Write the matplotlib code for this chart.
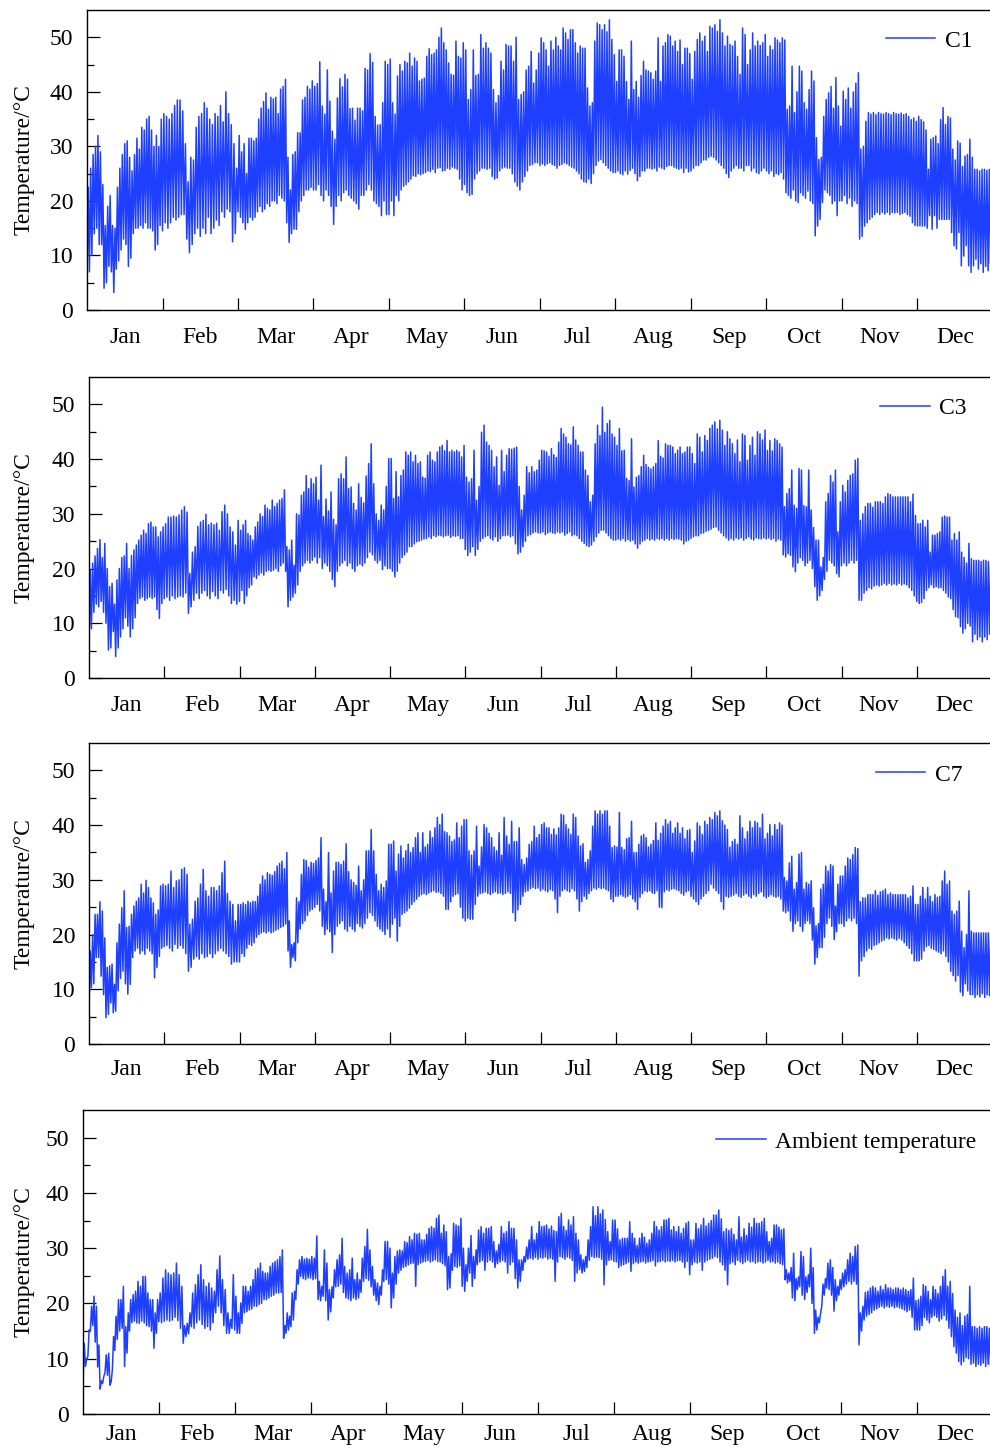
import numpy as np
import matplotlib
matplotlib.use("Agg")
import matplotlib.pyplot as plt
from matplotlib.ticker import NullFormatter

plt.rcParams["font.family"] = ["Liberation Serif", "DejaVu Serif"]
plt.rcParams["font.size"] = 17

months = ["Jan", "Feb", "Mar", "Apr", "May", "Jun",
          "Jul", "Aug", "Sep", "Oct", "Nov", "Dec"]

# daily maximum / minimum, one inner list per month
c1_max = [
    [22.5, 26, 28.5, 30, 32, 29, 23, 15.5, 19, 21, 15.5, 15, 22.5, 26, 28.5, 30.5, 31, 28, 25.5, 28.5, 31.5, 29.5, 33.5, 33, 35, 35.5, 33, 30, 32, 30, 35],
    [36, 35.5, 35, 36, 37.5, 38.5, 38.5, 36.5, 30.5, 23.5, 28, 27.5, 33.5, 35.5, 36, 38, 37, 35, 34, 36, 35.5, 37.5, 34.5, 40, 36, 34, 30.5, 26],
    [32, 29, 30.5, 25, 31.5, 31.5, 31, 31.5, 35, 37, 38.2, 39.8, 36.8, 39, 38.7, 39, 36, 40.5, 41, 42.3, 28, 22, 28.5, 29, 32.5, 32.5, 38.5, 39, 41, 40.5, 42],
    [41, 41.5, 45.5, 37.4, 35.9, 44, 38.3, 32.8, 31.3, 38.9, 42.4, 40.9, 43.2, 42.3, 36.9, 37, 34.8, 37, 37, 36.5, 44.3, 44, 47, 45.4, 35.5, 33.9, 34, 38, 45.6, 45],
    [46, 38, 35.9, 42.9, 45, 43.8, 45.6, 45.3, 47.1, 44.7, 46.2, 45.6, 42, 42.3, 42.5, 46.5, 47.9, 46.8, 47.1, 47.7, 50, 51.7, 49, 47.7, 45.3, 43.2, 43, 49.3, 46.5, 46.2, 49],
    [47.7, 38.6, 40.4, 47.7, 43, 43.2, 50.5, 48, 49, 48, 47.1, 40.4, 38, 39.3, 45.6, 44, 48.7, 48.4, 48.4, 45.6, 50, 38.6, 39.5, 40, 44, 44.7, 47.4, 41.6, 44, 47.1],
    [49.9, 49, 47.7, 44.7, 49.3, 47.7, 50, 48.4, 47.7, 51.7, 50.8, 49.6, 51.4, 51.4, 49, 47.1, 48.4, 48, 48, 40.7, 37.4, 38, 49.3, 52.6, 52.3, 51.4, 52.3, 51, 53.2, 49.6, 46.8],
    [41.9, 47.7, 47.7, 46.5, 41.9, 38.6, 49.3, 40.4, 41.9, 39, 43, 45.6, 44, 43.8, 43.5, 42.3, 43.8, 49.9, 41.9, 48.4, 49, 50.5, 50.2, 48.4, 49.3, 47.4, 49.5, 45, 48, 48, 47],
    [42.3, 47.4, 49.6, 50.8, 49.3, 50.2, 47.4, 52, 51.7, 52.3, 51.1, 53.2, 50.8, 48.4, 50.2, 48.7, 48.4, 49.3, 46.5, 43.2, 51.7, 50.5, 45, 47.7, 50.8, 48.4, 49.3, 48.5, 49, 50.5],
    [46.5, 48.4, 47.7, 49.9, 49.5, 49, 49.9, 49.5, 36.8, 37.4, 44.7, 36.2, 40, 44.7, 43.8, 38, 36.8, 40.4, 43.8, 42, 31.6, 27.6, 28, 35.5, 38.6, 39.8, 41, 37, 42.6, 37.4, 33.7],
    [40.1, 38.6, 40.7, 37, 40, 41.6, 43.5, 29.5, 30, 34.6, 36.2, 35.9, 36.2, 35.8, 36.2, 36, 35.9, 36.2, 36, 35.8, 36.2, 36, 35.9, 36.1, 35.8, 36, 35.5, 34.9, 35.2, 34.6],
    [35.5, 34.9, 34.5, 33, 25.8, 31.3, 31.6, 31.9, 30.5, 34.9, 37.1, 34, 35.5, 35.2, 29.5, 27.5, 31, 30.6, 26.3, 28.2, 28.5, 31.3, 28, 25.8, 25.8, 25.5, 25.8, 25.8, 25.6, 25.8, 25.5],
]
c1_min = [
    [5, 7, 10, 14, 15, 12, 12, 4, 5, 8, 7, 3.2, 7.5, 9, 11, 13, 12, 8, 9.5, 14, 15, 15, 15.5, 15, 16, 15, 15, 14.5, 11, 12, 15.5],
    [14.5, 16, 15, 16, 17, 16.5, 17, 17.5, 17.5, 13, 10.5, 12, 14, 15, 13.5, 15, 14, 17, 14, 15, 16.5, 15.5, 18, 17, 18.5, 18, 12.5, 14],
    [18, 17, 16, 14.8, 16, 17, 16.5, 17, 18, 19, 18, 18.5, 19.5, 19, 20, 20, 19.5, 21, 20.5, 20, 16, 12.4, 14, 14.8, 14.8, 18, 20, 21, 22, 22, 22.5],
    [22, 22, 23, 21, 20, 22, 21, 19, 15.7, 19, 21, 20, 21.5, 22, 21, 20.5, 20, 19.5, 18.5, 21, 21, 22, 23, 22, 20, 19.5, 19, 17.3, 20, 17.5],
    [17.5, 20, 17.3, 21, 20, 22, 22.7, 23, 23.5, 24, 24.6, 24.5, 25, 24.8, 25, 25.2, 25.5, 25.4, 25.8, 25.2, 26, 26.1, 25.5, 25.6, 26, 25.8, 26.2, 26, 25.8, 24, 22],
    [23, 21.5, 21, 21.2, 24, 25, 25.5, 26, 26, 25.8, 26, 24.5, 24, 24.2, 25.5, 26, 26.2, 26, 26, 25, 23.5, 22.7, 22, 23.5, 24.5, 25.5, 26.5, 26.7, 27, 27],
    [26.5, 26.8, 26.5, 26.8, 27, 26.7, 26.5, 26, 26.5, 26.7, 27, 26.8, 26.5, 26.2, 26, 25.5, 25, 24, 23.5, 23.4, 24, 23.2, 25, 26.5, 27.3, 27.6, 27, 26.5, 26, 25.5, 25.2],
    [25.2, 25.5, 25, 24.8, 25.5, 24.9, 25.6, 26, 25, 23.7, 24.5, 25.5, 25.5, 26, 26, 25.8, 26, 25.5, 26.2, 26, 25.8, 26.3, 26.5, 26.5, 26.2, 26, 25.8, 26, 25.2, 26, 25.3],
    [25.5, 26, 26.5, 26.5, 27, 27.5, 27.5, 28, 28.2, 28, 27.5, 27, 26.5, 26, 25, 24.3, 25.5, 26, 26.5, 26, 26, 25.5, 26.5, 26.5, 25.5, 26, 25.2, 25, 25.5, 26],
    [25.5, 25, 25.5, 24.5, 25, 24.8, 25.2, 24, 21.5, 21, 20.5, 22, 20, 19.7, 21.5, 21, 20.5, 21.8, 20, 19.5, 13.6, 15.4, 16.6, 19.7, 22, 21.5, 21, 19.5, 20, 17.3, 20],
    [20, 21, 19.5, 20.5, 19, 20, 19.5, 13, 13.5, 15.4, 16, 16.6, 17, 17.5, 17.9, 17.5, 17.9, 17.6, 17.9, 17.5, 17.9, 17.8, 17.9, 17.5, 17.7, 17.9, 17.5, 17.2, 16, 15.5],
    [15.4, 15.4, 15.4, 15.4, 15, 17.3, 14.8, 17.3, 15, 16.6, 16.6, 16.6, 16.6, 16.6, 14.2, 11.8, 11.2, 14.2, 8.1, 9.9, 11.8, 8.1, 6.9, 8.1, 9.3, 7.5, 8.5, 6.9, 8, 7.2, 8.5],
]

c3_max = [
    [19.7, 21, 22.3, 23.7, 25.3, 22, 24.6, 20, 16.7, 17.3, 13.5, 17.9, 20, 22, 22.3, 24.6, 20, 22.4, 23.4, 24.3, 25.2, 26.1, 27, 26.4, 28.2, 28.5, 27.6, 27.6, 25.8, 26.7, 27.6],
    [28.2, 29.4, 29.4, 29.6, 29.4, 29.8, 30.7, 31.3, 30.3, 19.1, 23, 24, 27.7, 28.5, 28.8, 29.9, 28, 28.3, 28, 28.3, 27, 30.4, 31.6, 30, 27.6, 26.7, 24.3, 28.8],
    [27, 28, 28.8, 26.4, 26, 25.2, 27.6, 28.5, 30, 29.5, 31.6, 31, 30.7, 32.5, 31.3, 31.9, 32.5, 32.8, 34.4, 24, 23.4, 25.2, 20.6, 30, 29.8, 33.4, 34, 37, 34.6, 36.4, 35.5],
    [36.7, 32.5, 38.9, 29.5, 32.7, 30.5, 34, 29, 28, 36.4, 37.3, 36.4, 40.4, 34.6, 34.9, 31.9, 30.7, 35.5, 33, 32, 36.9, 39.2, 42.8, 35.5, 30, 28.8, 31.6, 30.7, 35, 40.1],
    [40.1, 32.8, 37.7, 33.1, 37, 38, 41.3, 40.7, 41.3, 39.5, 40.7, 39.2, 39.5, 36.7, 36.5, 40.7, 41.3, 39.8, 39.5, 41.3, 42.2, 42.5, 41.5, 43.4, 41.3, 41.6, 41.3, 41.6, 41.3, 40.4, 42.5],
    [36.7, 35.8, 36.4, 41.6, 32.5, 35, 44.9, 46.2, 43.1, 42.5, 41.6, 38.6, 40.4, 35.2, 41.6, 37.7, 40.7, 41.9, 41.8, 42, 42.2, 35, 30.7, 33.4, 38.6, 37.5, 38.6, 37.7, 38, 39.8],
    [41.6, 41.5, 41.3, 40.5, 41.9, 40.8, 40.3, 43.1, 45.6, 44.6, 44, 42.8, 42.6, 45.9, 43.5, 42.5, 41.3, 41.3, 38, 37, 32.2, 33.4, 42.8, 46.2, 44.3, 49.5, 44.9, 46.5, 47.1, 44.6, 44],
    [42.5, 45.6, 41.5, 41.6, 36.5, 36.1, 43.7, 34.9, 36.7, 37, 38.6, 40.7, 39, 38.5, 38.2, 38.6, 39.2, 43.4, 40.5, 40.2, 42.8, 42.5, 42.5, 42.2, 41, 41.6, 42.2, 41, 41.3, 42.2, 42.2],
    [41, 39.2, 44.6, 44, 41.3, 44.3, 43.4, 45.6, 46.2, 46.8, 45.5, 47.1, 45.3, 42.5, 45, 43.7, 42.8, 41, 43.5, 39.5, 44.6, 44.3, 39.8, 42.5, 44, 40.7, 45, 44.6, 43.5, 45.3],
    [41.6, 43.4, 41.5, 43.7, 43.4, 42.8, 42.2, 31.3, 33.7, 34.6, 38, 31.6, 31, 38.3, 38, 31.5, 31.3, 38, 30.7, 27.5, 25.2, 25.2, 20.3, 22, 32.2, 33.7, 37, 35.8, 38, 26.7, 32.2],
    [35.2, 34, 36.1, 37, 37.3, 39.8, 40.1, 28.8, 30, 31.3, 31.9, 31.9, 31.2, 32.2, 32.2, 32.2, 31.9, 33.1, 33.7, 33.5, 33.1, 33.1, 33.1, 33.1, 33.1, 33.1, 33.1, 32.2, 33.6, 29.7],
    [28.2, 28.2, 28.8, 27.6, 28.8, 23, 26.1, 26.1, 26.4, 26.7, 29.4, 29.6, 29.4, 29.4, 25.2, 26.4, 25.2, 26.7, 23, 22, 21, 24.6, 21.8, 21.5, 21.5, 21.5, 21.3, 21.5, 21.5, 21.3, 21.5],
]
c3_min = [
    [5, 9, 12, 13.5, 13, 14, 12, 10, 5.1, 5.5, 8.5, 3.9, 5.5, 7.5, 9, 11, 9.5, 7.5, 9, 11, 13.6, 14.5, 14.8, 14.2, 14.5, 14.8, 14.5, 14.8, 12.5, 10.9, 13.6],
    [14.5, 14.8, 14.2, 15, 14.5, 14.8, 15, 14.8, 15.5, 11.8, 13, 14.2, 15.5, 14.5, 15.5, 16, 15, 14.5, 15.8, 15, 14.5, 16, 15.5, 16.2, 15, 13.6, 14.2, 13.5],
    [14, 16, 13.6, 15, 16.5, 17, 18.5, 18.2, 18.8, 19.2, 18.8, 19.5, 19.7, 19.5, 19.7, 20, 19.5, 20.5, 21, 19.5, 13, 14.2, 14.8, 15.5, 17, 19.5, 20.5, 21, 21.5, 21, 21.5],
    [22.1, 21, 22, 20, 21, 20.5, 19.5, 18, 16.7, 19.5, 20.5, 21, 21.5, 20.5, 21, 20, 19.5, 20.5, 20.8, 20.5, 21, 22, 23, 22.5, 21.5, 21, 21.5, 19.8, 20.5, 20],
    [20, 19.5, 18.5, 19.5, 21, 22, 22.5, 23, 24, 24, 24.5, 24.9, 25, 25.2, 25.4, 25.5, 25.8, 25.5, 26, 25.8, 26.1, 26, 25.8, 26, 26.1, 25.7, 26, 25.9, 26, 25.5, 25.5],
    [23.5, 22.4, 23, 24, 22.4, 23.5, 25, 25.5, 25.8, 26, 25.5, 25.2, 25.8, 25, 25.5, 26, 26, 26.1, 25.8, 26, 24.5, 22.7, 23, 24, 25, 26, 26.2, 26.5, 26.7, 26.5],
    [26.5, 26.7, 26.2, 26.5, 26.7, 26.5, 26.4, 26.7, 26.5, 26.7, 26.1, 26.4, 26.7, 26, 26.2, 26, 25.5, 25, 24.6, 24.2, 24, 24.3, 25, 25.8, 26.5, 27, 27, 26.5, 26, 25.5, 25.2],
    [25.2, 25.4, 25.2, 25.5, 25, 25.3, 25, 25.2, 24.5, 23.7, 24.5, 25, 25.2, 25.5, 25.2, 25.4, 25.2, 25.5, 25.3, 25.5, 25.2, 25.5, 25.2, 25.5, 25.3, 25.5, 25.4, 25.2, 24.5, 25, 25.2],
    [25.5, 25.8, 26, 26, 26.4, 26.5, 26.8, 27, 27.2, 27.5, 27.6, 27, 26.5, 26, 25.6, 25.2, 25.5, 25.2, 25.6, 25.4, 25.6, 25.2, 25.5, 25.8, 25.4, 25.2, 25.6, 25.5, 25.4, 25.6],
    [25.4, 25.6, 25.3, 25.5, 25, 25.4, 25.2, 22.5, 22.1, 22.7, 22.4, 20.3, 19.4, 21, 22, 21.5, 20.5, 21, 21.5, 20, 16.7, 14.2, 15, 16, 18, 19.5, 21.5, 21, 20.5, 19.1, 18.5],
    [20.5, 21, 20.5, 21, 21.5, 21, 21.5, 14.2, 14.2, 15.5, 16, 16.5, 16.3, 16.8, 17, 16.8, 17, 17.3, 17, 17.3, 17, 17.2, 17, 17.3, 17, 17.2, 17, 16.5, 16, 15],
    [14, 13.6, 13.8, 14.5, 16, 16.5, 17, 16.5, 16.7, 16.5, 16.5, 16, 15.5, 14.8, 14.5, 12.5, 11.2, 11, 9.4, 8.2, 9, 10, 9.5, 6.6, 8, 7, 7.5, 6.6, 7.5, 7, 8],
]

c7_max = [
    [17, 20, 23.7, 23.7, 26, 24.3, 19.4, 14, 14.3, 14.6, 10.9, 18.5, 21.9, 24.9, 28, 21.3, 21.5, 23.7, 25.2, 26.1, 26.7, 29.2, 27.6, 29.9, 28.6, 26.7, 25.8, 23.7, 24.5, 28.9, 29.2],
    [28.9, 29.2, 31.6, 28.6, 29.8, 30, 31.9, 32.2, 31, 21.9, 22.8, 26.1, 26.7, 29.2, 31.9, 28, 27, 28.6, 28.6, 28, 28.9, 31.3, 33.4, 27.5, 26.1, 25.5, 22.5, 25.5],
    [25.5, 25.8, 25.5, 26.1, 25.8, 26.1, 26, 27, 29.2, 30.7, 30, 31.3, 31, 30.8, 31.5, 32.5, 33, 33.4, 32, 35, 22.5, 18.2, 18.5, 26.7, 26, 31, 33.7, 33.5, 32.3, 33.2, 33],
    [33.5, 34, 37.7, 28.3, 26, 35, 27.6, 31.6, 33.2, 33.2, 32.8, 33.4, 36.6, 31.5, 30, 29.5, 29, 32.5, 28, 30, 35.3, 35.3, 39.2, 35.3, 31, 28, 29.2, 28.6, 29.8, 36.5],
    [36.5, 37.1, 31.6, 34.7, 36.2, 34, 35.3, 36.5, 35, 35.9, 37.7, 38.6, 35, 38.6, 36, 36.5, 38.9, 37.7, 39.5, 41.4, 40.1, 42, 38.8, 38.6, 38, 37, 37.3, 40.4, 37.7, 39.8, 41],
    [41, 35.3, 34.5, 35.3, 39.8, 32.5, 36, 40.1, 39.5, 38.5, 37.7, 36, 35.3, 38.6, 34.5, 41.4, 38, 36.5, 40.7, 37, 37, 39.5, 33.7, 32.8, 34, 36.5, 37, 39.8, 37.7, 38.3],
    [40.1, 40.4, 39.5, 39.5, 38.3, 39.3, 38.2, 39.5, 42, 41.8, 40.1, 39.3, 38.3, 42, 41.4, 38, 36.2, 36.6, 33.2, 33.7, 35.3, 39.8, 42.6, 42, 42.6, 42, 42.6, 42.6, 39.8, 35.9, 36.2],
    [36, 42.3, 35.9, 35.5, 37.5, 37.7, 40.7, 35, 35, 36.5, 38, 38.3, 37.7, 36, 36.5, 37.2, 40.4, 37.2, 38.5, 39.8, 41, 40.2, 40.7, 38.5, 39.5, 40.4, 38.5, 39.5, 37.5, 39, 39.2],
    [35, 37.1, 40.4, 39.8, 38.3, 40.7, 40.1, 41.4, 41, 42.3, 41.7, 42.6, 40.8, 40, 39.2, 36, 37, 37.4, 36.5, 41.7, 39.5, 37.5, 38.8, 40.7, 39.5, 40.7, 40.4, 39.5, 42, 37.5],
    [38.5, 40.1, 38, 40.1, 39.2, 40.4, 40, 30.4, 29.8, 33.1, 34.3, 28.3, 29.5, 34.7, 35, 28.3, 29.5, 29.2, 29.8, 24.9, 21.6, 22, 28.3, 29.2, 32.5, 31.6, 32.8, 32.5, 25.2, 29.2, 30.7],
    [30.7, 32.5, 34, 33.7, 34.6, 35.9, 35.7, 26, 26.7, 26.7, 27.3, 27.3, 27.3, 28, 27.2, 27.8, 28, 28.3, 27.3, 27.6, 27.3, 27.3, 27.3, 27.3, 27.3, 27.3, 26.7, 27, 28.9, 25.5],
    [25.5, 27, 28.6, 26.5, 28.6, 27, 26, 27.3, 26.8, 27, 29.8, 31.6, 29.2, 29.8, 24.3, 23.7, 24.3, 26.1, 20.6, 17.6, 20, 28, 20.6, 20.3, 20.3, 20.3, 20.3, 20.3, 20.3, 20.3, 20.3],
]
c7_min = [
    [6, 10.3, 11, 15.8, 15.8, 12.4, 9, 4.8, 5.4, 7.5, 5.7, 6, 9.7, 12, 13.3, 11, 9.1, 10.9, 15.8, 17, 17.5, 16.5, 17, 16.4, 17.5, 17, 16.5, 12.1, 14, 16, 17.5],
    [17.8, 18, 17.5, 17, 18.2, 17.5, 18, 17.5, 16.5, 13.3, 14, 15.5, 16, 15.5, 16.5, 15.8, 16, 16.5, 15.8, 16.5, 17, 17.5, 17, 16.5, 16, 14.6, 15, 15],
    [15, 16.5, 16, 17.5, 18.2, 18, 18.5, 19.5, 20, 20.3, 20.5, 20.3, 20.6, 20.3, 20.5, 20.8, 21, 21.3, 21.5, 21.9, 17, 14, 15.8, 15.2, 18.5, 21, 22, 22.5, 23.5, 24.3, 24.6],
    [25, 25.5, 24.3, 21.5, 20, 21, 20.5, 16.7, 20, 21.5, 22, 22.5, 21, 20.6, 21.5, 21, 20.6, 22, 21.5, 21.2, 22, 23, 24, 23.5, 22.5, 21.5, 21, 20.6, 20, 21],
    [19.5, 21.9, 23, 18.8, 21.5, 23.7, 24, 24.3, 24.8, 25.5, 26, 26.5, 27, 27.3, 27.5, 27.3, 27.6, 27.8, 28, 27.7, 27.8, 27.5, 27, 24.6, 24.6, 26, 27, 27.3, 27.5, 25, 23],
    [22.5, 23, 22.8, 22.8, 25.5, 27, 27.5, 27.6, 27.8, 27.5, 27.3, 27.6, 27.8, 27.5, 27.6, 27.3, 27.5, 27.8, 27.5, 24, 22.5, 24.5, 25.5, 27, 27.8, 28, 28.4, 28.6, 28.4, 28.5],
    [28, 28.3, 28, 27.8, 28.2, 28, 26.5, 24, 27, 28, 28.3, 28, 27.8, 28.4, 28, 26.5, 24.3, 26, 27, 26.5, 27.5, 28, 28.5, 28.3, 28.6, 28.4, 28.5, 28.2, 28, 26.5, 26],
    [27, 27, 27.3, 27, 26.8, 27, 27.3, 26.5, 26, 24.6, 26.8, 27.5, 28, 27.8, 28, 27.6, 27.5, 28, 25, 24.9, 27.8, 28.2, 28, 28.3, 28.4, 28.2, 28, 27.5, 27.2, 27.8, 28],
    [27, 26.5, 26, 25.5, 26.5, 27, 27.5, 28, 29.2, 28.5, 28, 27.5, 26, 24.6, 27, 26.8, 27, 27.2, 27.5, 27, 26.8, 27.2, 27.5, 27, 26.7, 27.3, 27, 27.5, 27.8, 27],
    [26.7, 27, 27.3, 27, 26.8, 27, 26.5, 24.3, 24, 24.3, 22.5, 20.6, 22, 22.5, 21.5, 20.6, 22, 22.5, 22, 19, 14.6, 15.8, 17.6, 17.6, 19.5, 22, 23, 21.5, 19.1, 20.5, 22],
    [22, 21.5, 22.5, 23, 22.5, 23, 22, 12.4, 15.2, 16, 17, 17.5, 17.3, 18, 18.2, 18.5, 18.8, 19, 19.4, 19.2, 19.4, 19.2, 19, 19.3, 19, 18.5, 18, 17.5, 16.5, 15.2],
    [15.2, 15.2, 15.5, 17, 17.8, 18, 17.5, 17.3, 17, 16.8, 16.5, 17, 16, 15, 13.3, 12.5, 11.5, 12.5, 9.5, 8.8, 11, 9.7, 9, 9, 8.5, 9, 8.6, 9.2, 8.5, 9, 8.8],
]

amb_max = [
    [12.8, 10, 15.2, 19.5, 21.3, 19.5, 12.5, 6, 6.8, 10.7, 11, 5.8, 14, 17.7, 20.7, 20.7, 23.1, 15.8, 18.3, 20.7, 21.6, 22.2, 24, 23.1, 24.9, 24.9, 21.9, 20.7, 20.7, 18.3, 20.7],
    [21.9, 24.6, 26.1, 25.5, 25.2, 25.5, 27.3, 25.2, 23.1, 16, 16.4, 18.3, 21.9, 23.4, 25.2, 27, 24.3, 23.1, 23.7, 22.8, 22.2, 26.1, 28.6, 24.3, 22.5, 18.3, 17.1, 25.2],
    [21.3, 18.3, 20.1, 23.1, 23.1, 22.2, 23.1, 24.3, 26.1, 26.4, 27.3, 25.8, 25.5, 25.5, 26.7, 27.3, 27.6, 27.9, 28.5, 29.7, 16, 18.3, 17.7, 21.9, 22.2, 26.1, 27.9, 28.5, 28, 28.2, 28],
    [28.5, 28.2, 32.2, 24, 23.1, 29.7, 27.3, 22.5, 23, 26.1, 27.9, 28.8, 31.8, 26.7, 25.5, 26.1, 28.2, 24.3, 25.5, 24.3, 28.2, 30.3, 33.4, 29.7, 26.7, 24.3, 23.7, 23.1, 26.1, 31.2],
    [31.2, 30, 25.5, 28.5, 29.5, 29.7, 29.5, 31.2, 31, 32.1, 31.5, 32.7, 32.5, 32.7, 31.5, 31.5, 32.5, 33.6, 33.9, 33.6, 35.4, 36, 32.7, 34.2, 33, 28.5, 29, 34.5, 34.2, 34, 35.4],
    [30, 27, 30, 32.3, 28.5, 29.7, 33.3, 33.9, 32.7, 33.6, 33.6, 33.9, 31.2, 29.5, 30.7, 33.9, 32.7, 33, 34.8, 33.6, 33.6, 31.5, 27.9, 27.9, 28.5, 30.2, 31.5, 33.9, 31.5, 32.7],
    [34.8, 33.9, 34, 34.2, 33.5, 34, 33.2, 33, 35.7, 36.3, 33.9, 33.2, 35.1, 34.2, 35.7, 32.7, 31.5, 28.8, 27.9, 28.5, 31.5, 33.9, 37.5, 35.9, 37.5, 36.2, 36.9, 35.2, 33, 31.2, 35.1],
    [35.1, 33.5, 31.5, 31.8, 31.8, 31.8, 34.8, 32.7, 31.8, 30.5, 31.8, 32.7, 32, 30.9, 31.5, 32.7, 34.8, 33.9, 33.3, 33.9, 35.1, 35.1, 35.4, 33.3, 33.9, 33, 33.9, 32.7, 33.6, 34.5, 34.8],
    [31.5, 31.5, 34.5, 33.5, 34.2, 35.4, 34, 34.5, 35, 36, 36, 36.9, 35.3, 33, 33.5, 33.2, 33.5, 32.5, 31.5, 35.7, 32, 33.5, 32.3, 34.5, 33.8, 35.4, 34.5, 34.5, 34.8, 35.4],
    [33, 31.2, 31.8, 34.2, 34.2, 33.8, 33.3, 33.5, 26.1, 25.5, 26.5, 29.1, 24.5, 24.8, 29.4, 28.5, 24.8, 25.2, 30, 26.5, 18.8, 17.5, 18.2, 23.5, 24.5, 27.3, 27.9, 26.5, 24.3, 23.1, 24.3],
    [25.5, 26.1, 27.9, 29.1, 28.5, 30.3, 30.6, 18.3, 19.5, 22, 22.2, 22.8, 23.1, 22.8, 22.2, 23.1, 22.5, 23.4, 22.8, 22.8, 22.5, 22.8, 22.8, 22.5, 22.8, 22.5, 22.2, 22.5, 24.6, 20.5],
    [20.7, 21.3, 23.4, 23.1, 22.2, 20.7, 23.1, 22.5, 21.8, 23.1, 24.9, 26.1, 23.1, 24, 21.8, 18.8, 17.5, 18.3, 16, 17.7, 18, 23.1, 15.8, 15.8, 15.5, 15.8, 15.5, 15.8, 15.8, 15.5, 15.3],
]
amb_min = [
    [5.6, 8.6, 10.4, 15, 16, 13, 8.5, 4.5, 5.5, 7.5, 7, 5.2, 8, 11.5, 13.5, 15, 15.5, 8.6, 11, 15, 16.5, 16.8, 16.5, 16.4, 16.8, 16.5, 16, 15.8, 15, 11.9, 14.6],
    [16.7, 16.5, 16.8, 17, 16.8, 17, 17.5, 16.9, 15.5, 12.8, 14, 14.5, 15.8, 15.5, 16.5, 17, 16.2, 15.5, 15.8, 15.2, 16.5, 18.3, 19.5, 18.3, 16, 14.6, 14.6, 15.5],
    [15.2, 14.6, 14.6, 16.4, 18.3, 18.5, 18.8, 19, 19.5, 19.5, 19.8, 20, 20.7, 20.7, 21, 21.3, 21.5, 21.9, 21.9, 22, 13.7, 14.6, 15.2, 15.8, 17, 20.7, 23.5, 24.9, 24.5, 24.3, 24.6],
    [24.6, 24.3, 24.5, 20.7, 20.5, 21.3, 20.5, 17, 18.5, 21, 23, 23.1, 23.5, 22, 21, 20.8, 20.5, 21, 20.7, 21, 22, 24, 24.5, 24.2, 23, 21.5, 20.5, 19.8, 21.5, 24],
    [24.3, 23.5, 19.2, 21, 23.5, 25.5, 26, 26.5, 26.7, 27, 27.2, 27.3, 23.1, 27, 27.3, 27.5, 27.6, 27.8, 27.5, 27.7, 27.9, 27.6, 27.5, 27.2, 26.8, 22.5, 22.8, 26, 26.7, 26.5, 26.8],
    [23.1, 22.2, 24, 25.5, 23.1, 24.5, 27, 27.5, 27.8, 26, 27.5, 27.8, 27.5, 26.5, 27.2, 27.5, 27.8, 27.5, 25.5, 27, 27.5, 24.5, 22.8, 24, 26, 27.5, 28, 28.2, 28, 28.3],
    [28, 28.3, 28.2, 28.4, 28, 28.2, 28, 24, 27.5, 28.5, 28.3, 28, 28.4, 28.2, 27.8, 24, 25.5, 26.1, 25.5, 25.8, 26.5, 27.8, 28.5, 28.3, 28.4, 28.3, 28, 23.4, 27, 27.8, 27.9],
    [27.6, 27.5, 26.5, 26.8, 27, 27.2, 27.5, 25.8, 27.2, 27.5, 27.3, 27.5, 27.6, 27.3, 27.5, 27.6, 27.8, 26.8, 27.5, 27.6, 27.8, 27.5, 27.7, 27.6, 27.8, 27.5, 27.7, 27.8, 27.5, 26.5, 27.6],
    [25.2, 27, 27.5, 27.3, 27.5, 26, 27.5, 27.8, 28, 28.2, 28.5, 28.3, 27.5, 27, 26, 23.4, 27.2, 27.5, 27, 27.8, 27.5, 27.2, 27.5, 27.8, 27.5, 27.6, 27.3, 27.5, 27.6, 27.3],
    [27.5, 27.8, 27.5, 27.6, 27.3, 27.5, 27.2, 27, 24.3, 23.7, 24, 21, 20.5, 22.5, 23, 21.5, 20.7, 22, 23, 20, 14.6, 15.2, 16.5, 19.5, 21.5, 22.8, 22.5, 21.5, 18.6, 20.5, 21.5],
    [22.5, 23, 23.5, 24, 23.5, 24, 23.5, 12.5, 15, 17, 17.7, 18, 18.3, 18.8, 19, 19.3, 19.5, 19.2, 19.5, 19.3, 19.5, 19.2, 19.4, 19.2, 19, 18.8, 18.5, 18.8, 17.5, 15.2],
    [15.2, 15.2, 16, 17.5, 17, 16.5, 17.5, 17.8, 17.5, 16.8, 17.2, 17.8, 17, 15.5, 14, 12.2, 11, 9.5, 8.9, 9.5, 10.2, 10, 9, 9.2, 8.6, 9, 8.8, 9.2, 8.6, 9, 8.8],
]

series = [
    ("C1", c1_max, c1_min),
    ("C3", c3_max, c3_min),
    ("C7", c7_max, c7_min),
    ("Ambient temperature", amb_max, amb_min),
]

# layout in pixels: left, top, right, bottom of each axes; legend anchor (axes coords);
# gap between bottom spine and month names
W, H = 990, 1449
boxes = [(87, 10, 993, 310), (89, 377, 992, 678), (89, 743, 992, 1044), (83, 1110, 993, 1414)]
legend_anchor = [(0.977, 0.897), (0.972, 0.897), (0.967, 0.894), (0.982, 0.895)]
month_pad = [12, 12, 11, 7]
BLUE = "#1f3fff"


def daily_trace(day_max, day_min):
    """one low and one high point per day, months spaced evenly on the axis"""
    xs, ys = [], []
    for m, (hi, lo) in enumerate(zip(day_max, day_min)):
        n = min(len(hi), len(lo))
        for d in range(n):
            xs += [m + d / n, m + (d + 0.5) / n]
            ys += [lo[d], hi[d]]
    return xs, ys


fig = plt.figure(figsize=(W / 100, H / 100), dpi=100)

for (label, hi, lo), (l, t, r, b), anchor, mpad in zip(series, boxes, legend_anchor, month_pad):
    ax = fig.add_axes([l / W, 1 - b / H, (r - l) / W, (b - t) / H])
    x, y = daily_trace(hi, lo)
    ax.plot(x, y, color=BLUE, lw=1.1, label=label)

    ax.set_xlim(0, 12)
    ax.set_ylim(0, 55)
    ax.set_xticks(range(1, 12))
    ax.xaxis.set_major_formatter(NullFormatter())
    ax.set_xticks(np.arange(12) + 0.5, labels=months, minor=True)
    ax.set_yticks(range(0, 51, 10))
    ax.set_yticks(range(5, 50, 10), minor=True)

    ax.tick_params(axis="x", which="major", direction="in", length=9, width=0.9)
    ax.tick_params(axis="x", which="minor", length=0, pad=mpad, labelsize=17)
    ax.tick_params(axis="y", which="major", direction="in", length=9, width=0.9, pad=10, labelsize=17)
    ax.tick_params(axis="y", which="minor", direction="in", length=4.8, width=0.9)

    ax.spines["right"].set_visible(False)
    for side in ("left", "top", "bottom"):
        ax.spines[side].set_linewidth(1.0)

    ax.legend(loc="center right", bbox_to_anchor=anchor, frameon=False, fontsize=17,
              handlelength=2.1, handletextpad=0.4, borderpad=0, borderaxespad=0)

    fig.text(24 / W, 1 - (t + b) / 2 / H, "Temperature/\u00b0C", rotation=90,
             ha="center", va="center", fontsize=17)

fig.savefig("out.png", dpi=100)
